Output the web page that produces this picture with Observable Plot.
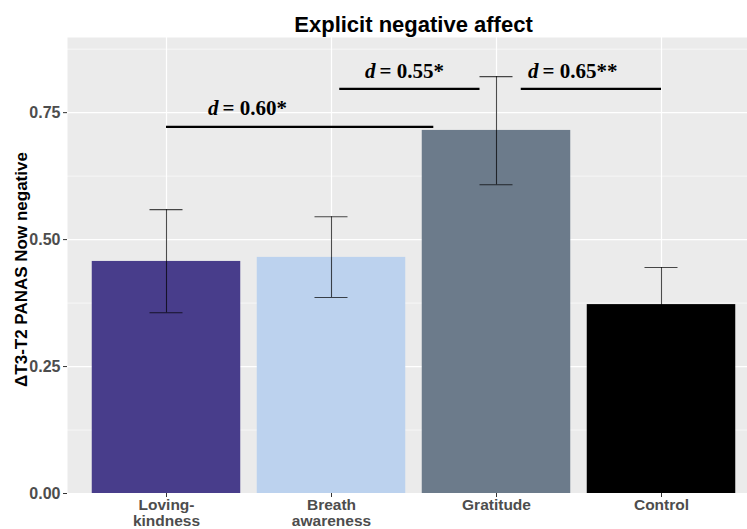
<!DOCTYPE html>
<html>
<head>
<meta charset="utf-8">
<script src="https://cdn.jsdelivr.net/npm/d3@7"></script>
<script src="https://cdn.jsdelivr.net/npm/@observablehq/plot@0.6"></script>
<style>
  html, body { margin: 0; padding: 0; background: #fff; overflow: hidden; width: 747px; height: 529px; }
  #chart svg { display: block; overflow: hidden; }
</style>
</head>
<body>
<div id="chart"></div>
<script>
// ---- data ----
const categories = ["Loving-\nkindness", "Breath\nawareness", "Gratitude", "Control"];
const means = [0.457, 0.465, 0.715, 0.372];
const ciLow = [0.356, 0.386, 0.608, 0.299];
const ciHigh = [0.559, 0.545, 0.821, 0.445];
const barColors = ["#483D8B", "#BCD2EE", "#6C7B8B", "#000000"];
const yTicks = [0, 0.25, 0.5, 0.75];
const yMinor = [0.125, 0.375, 0.625, 0.875];

const compLabels = ["= 0.60*", "= 0.55*", "= 0.65**"];
const compStart = [0.0, 1.05, 2.15];
const compEnd = [1.62, 1.9, 3.0];
const compLineY = [0.722, 0.797, 0.797];
const compLabelX = [0.327, 1.279, 2.267];
const compLabelY = [0.758, 0.831, 0.831];

const title = "Explicit negative affect";
const yTitle = "\u0394T3-T2 PANAS Now negative";

// ---- chart ----
const idx = d3.range(categories.length);
const comps = d3.range(compLabels.length);
const sans = "'Liberation Sans', Arial, Helvetica, sans-serif";
const serif = "'Liberation Serif', 'Times New Roman', serif";

const chart = Plot.plot({
  width: 747,
  height: 529,
  marginLeft: 67,
  marginRight: 0,
  marginTop: 37,
  marginBottom: 36,
  style: { fontFamily: sans, background: "#ffffff" },
  x: { domain: [-0.6, 3.6], range: [67, 760], axis: null },
  y: { domain: [0, 0.898], axis: null },
  color: { type: "identity" },
  marks: [
    Plot.frame({ fill: "#EBEBEB", stroke: null }),
    Plot.ruleY(yMinor, { stroke: "#ffffff", strokeWidth: 0.6 }),
    Plot.ruleY(yTicks, { stroke: "#ffffff", strokeWidth: 1.2 }),
    Plot.ruleX(idx, { x: (i) => i, stroke: "#ffffff", strokeWidth: 1.2 }),
    Plot.rectY(idx, { x1: (i) => i - 0.45, x2: (i) => i + 0.45, y1: 0, y2: (i) => means[i], fill: (i) => barColors[i] }),
    Plot.ruleX(idx, { x: (i) => i, y1: (i) => ciLow[i], y2: (i) => ciHigh[i], stroke: "#000", strokeOpacity: 0.7, strokeWidth: 1.1 }),
    Plot.ruleY(idx, { y: (i) => ciLow[i], x1: (i) => i - 0.1, x2: (i) => i + 0.1, stroke: "#000", strokeOpacity: 0.7, strokeWidth: 1.1 }),
    Plot.ruleY(idx, { y: (i) => ciHigh[i], x1: (i) => i - 0.1, x2: (i) => i + 0.1, stroke: "#000", strokeOpacity: 0.7, strokeWidth: 1.1 }),
    Plot.ruleY(comps, { y: (i) => compLineY[i], x1: (i) => compStart[i], x2: (i) => compEnd[i], stroke: "#000", strokeWidth: 2.2 }),
    Plot.text(comps, { x: (i) => compLabelX[i], y: (i) => compLabelY[i], text: () => "d", textAnchor: "end", dx: -2, fontFamily: serif, fontStyle: "italic", fontWeight: "bold", fontSize: 21, fill: "#000" }),
    Plot.text(comps, { x: (i) => compLabelX[i], y: (i) => compLabelY[i], text: (i) => compLabels[i], textAnchor: "start", dx: 2, fontFamily: serif, fontWeight: "bold", fontSize: 21, fill: "#000" }),
    Plot.axisY({ ticks: yTicks, tickFormat: d3.format(".2f"), tickSize: 4, tickPadding: 3, fontSize: 16, stroke: "#333333", fill: "#4D4D4D", label: null }),
    Plot.axisX({ ticks: idx, tickFormat: (i) => categories[i], tickSize: 4, tickPadding: 1, fontSize: 15.5, lineHeight: 1.02, stroke: "#333333", fill: "#4D4D4D", label: null }),
    Plot.text([title], { frameAnchor: "top", lineAnchor: "middle", dy: -13, dx: 6, fontSize: 22, fontWeight: "bold", fill: "#000" }),
    Plot.text([yTitle], { frameAnchor: "left", textAnchor: "middle", lineAnchor: "middle", dx: -46, dy: 4, rotate: -90, fontSize: 17, fontWeight: "bold", fill: "#000" })
  ]
});
d3.select(chart).selectAll('g[aria-label="y-axis tick label"], g[aria-label="x-axis tick label"]').attr("font-weight", "bold");
document.getElementById("chart").appendChild(chart);
</script>
</body>
</html>
